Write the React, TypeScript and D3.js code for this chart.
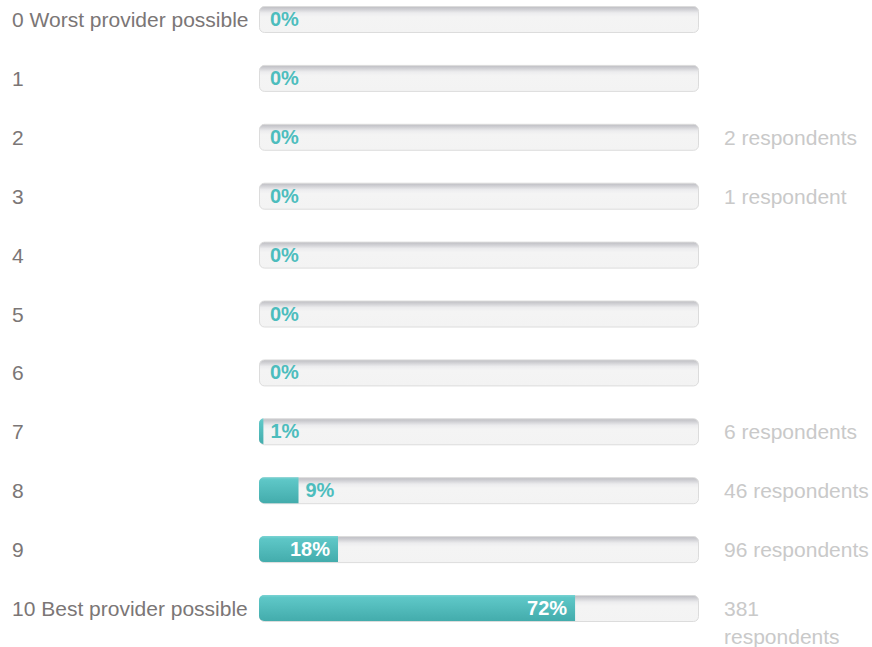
import React from "react";
import * as d3 from "d3";

const categories = [
  "0 Worst provider possible", "1", "2", "3", "4", "5", "6", "7", "8", "9", "10 Best provider possible",
];
const percents = [0, 0, 0, 0, 0, 0, 0, 1, 9, 18, 72];
const respondents = ["", "", "2 respondents", "1 respondent", "", "", "", "6 respondents", "46 respondents", "96 respondents", "381|respondents"];

const W = 872, H = 647;
const barX = 259, barW = 439, barH = 26;
const FONT = "'Liberation Sans', Arial, Helvetica, sans-serif";

export default function App() {
  const x = d3.scaleLinear().domain([0, 100]).range([0, barW]);
  const y = d3.scalePoint<number>().domain(d3.range(categories.length)).range([19, 608]);
  return (
    <svg width={W} height={H} style={{ position: "absolute", left: 0, top: 0 }}>
      <defs>
        <linearGradient id="bg" x1="0" y1="0" x2="0" y2="1">
          <stop offset="0" stopColor="#bdbdc2" />
          <stop offset="0.12" stopColor="#d2d2d6" />
          <stop offset="0.25" stopColor="#ececee" />
          <stop offset="0.4" stopColor="#f4f4f4" />
          <stop offset="1" stopColor="#f3f3f3" />
        </linearGradient>
        <linearGradient id="fg" x1="0" y1="0" x2="0" y2="1">
          <stop offset="0" stopColor="#7ad3d3" />
          <stop offset="0.1" stopColor="#5ec7c7" />
          <stop offset="1" stopColor="#43acac" />
        </linearGradient>
      </defs>
      {categories.map((c, i) => {
        const cy = y(i)!;
        const fw = x(percents[i]);
        const inside = fw > 50;
        const label = percents[i] + "%";
        const resp = respondents[i].split("|");
        return (
          <g key={i}>
            <text x={12} y={cy + 8} fontFamily={FONT} fontSize={21} fill="#7b7676">{c}</text>
            <rect x={barX + 0.5} y={cy - barH / 2 + 0.5} width={barW} height={barH} rx={5} fill="url(#bg)" stroke="#dcdcdc" />
            {fw > 0 && (
              <path
                d={`M${barX + 5},${cy - barH / 2} H${barX + Math.max(fw, 3)} V${cy + barH / 2} H${barX + 5} A5,5 0 0 1 ${barX},${cy + barH / 2 - 5} V${cy - barH / 2 + 5} A5,5 0 0 1 ${barX + 5},${cy - barH / 2} Z`}
                fill="url(#fg)"
              />
            )}
            <text
              x={inside ? barX + fw - 8 : Math.max(barX + 11, barX + fw + 7)}
              y={cy + 7}
              textAnchor={inside ? "end" : "start"}
              fontFamily={FONT}
              fontSize={20}
              fontWeight="bold"
              fill={inside ? "#ffffff" : "#4dbdbd"}
            >
              {label}
            </text>
            {resp.map((r, j) => (
              <text key={j} x={724} y={cy + 8 + j * 28} fontFamily={FONT} fontSize={21} fill="#c9c9c9">{r}</text>
            ))}
          </g>
        );
      })}
    </svg>
  );
}
